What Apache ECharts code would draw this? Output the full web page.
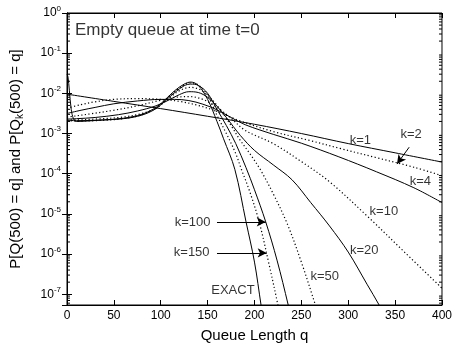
<!DOCTYPE html>
<html>
<head>
<meta charset="utf-8">
<script src="https://cdn.jsdelivr.net/npm/echarts@6/dist/echarts.min.js"></script>
<style>
  html, body { margin: 0; padding: 0; background: #fff; }
  #chart { width: 455px; height: 348px; }
</style>
</head>
<body>
<div id="chart"></div>
<script>
// queue length q (x) and probability (y) for each curve
const qExact = [0, 1, 2.5, 4.5, 7, 10, 20, 40, 60, 80, 95, 105, 115, 125, 132, 140, 150, 160, 167, 179, 191, 200, 207, 212]
const pExact = [3.0e-2, 2.6e-2, 1.2e-2, 4.0e-3, 2.3e-3, 2.0e-3, 2.04e-3, 2.19e-3, 2.40e-3, 3.02e-3, 4.47e-3, 7.08e-3, 1.17e-2, 1.70e-2, 1.91e-2, 1.58e-2, 7.08e-3, 2.0e-3, 7.41e-4, 1.29e-4, 6.31e-6, 6.31e-7, 5.37e-8, 1e-8]

const qK150 = [0, 10, 30, 60, 80, 95, 105, 115, 125, 132, 140, 150, 160, 170, 180, 186, 195, 205, 215, 225, 231]
const pK150 = [2.09e-3, 2.04e-3, 2.09e-3, 2.34e-3, 2.95e-3, 4.37e-3, 6.92e-3, 1.12e-2, 1.62e-2, 1.82e-2, 1.62e-2, 8.91e-3, 2.82e-3, 1.0e-3, 3.16e-4, 1.29e-4, 3.55e-5, 6.31e-6, 6.31e-7, 5.37e-8, 1e-8]

const qK100 = [0, 10, 30, 60, 80, 95, 105, 115, 125, 132, 140, 150, 160, 170, 180, 191, 200, 212, 224, 236, 242]
const pK100 = [2.14e-3, 2.09e-3, 2.14e-3, 2.34e-3, 2.88e-3, 4.17e-3, 6.61e-3, 1.05e-2, 1.55e-2, 1.70e-2, 1.58e-2, 1.0e-2, 3.98e-3, 1.58e-3, 5.62e-4, 1.41e-4, 3.98e-5, 6.31e-6, 7.08e-7, 5.37e-8, 1.26e-8]

const qK50 = [0, 10, 30, 60, 80, 95, 108, 120, 132, 145, 160, 175, 184, 195, 206, 220, 235, 250, 265, 275]
const pK50 = [2.19e-3, 2.19e-3, 2.29e-3, 2.57e-3, 3.16e-3, 4.27e-3, 7.24e-3, 1.17e-2, 1.41e-2, 1.12e-2, 5.01e-3, 1.58e-3, 7.24e-4, 3.16e-4, 1.29e-4, 3.16e-5, 5.62e-6, 6.31e-7, 5.37e-8, 1e-8]

const qK20 = [0, 10, 30, 55, 75, 95, 110, 120, 130, 140, 150, 160, 170, 185, 200, 220, 240, 260, 280, 300, 320, 333, 345]
const pK20 = [2.29e-3, 2.34e-3, 2.51e-3, 2.95e-3, 3.63e-3, 4.90e-3, 7.08e-3, 9.33e-3, 1.10e-2, 1.05e-2, 7.94e-3, 4.79e-3, 2.51e-3, 8.91e-4, 3.80e-4, 1.66e-4, 7.08e-5, 1.91e-5, 5.01e-6, 1.12e-6, 1.78e-7, 5.37e-8, 1.58e-8]

const qK10 = [0, 10, 25, 50, 75, 100, 115, 130, 145, 160, 175, 190, 220, 250, 280, 320, 360, 400]
const pK10 = [2.57e-3, 2.75e-3, 3.09e-3, 3.80e-3, 4.90e-3, 6.76e-3, 7.94e-3, 8.32e-3, 7.08e-3, 4.47e-3, 2.40e-3, 1.20e-3, 5.62e-4, 2.0e-4, 6.31e-5, 8.91e-6, 1.12e-6, 1.41e-7]

const qK4 = [0, 15, 30, 50, 75, 100, 115, 130, 145, 160, 175, 190, 220, 250, 290, 330, 370, 400]
const pK4 = [3.16e-3, 3.80e-3, 4.47e-3, 5.50e-3, 6.46e-3, 7.08e-3, 7.08e-3, 6.61e-3, 5.37e-3, 3.89e-3, 2.51e-3, 1.66e-3, 9.55e-4, 5.75e-4, 2.63e-4, 1.12e-4, 4.47e-5, 1.91e-5]

const qK2 = [0, 15, 30, 50, 75, 100, 120, 140, 160, 184, 220, 260, 291, 330, 370, 400]
const pK2 = [4.27e-3, 5.25e-3, 6.17e-3, 7.08e-3, 7.41e-3, 7.08e-3, 6.31e-3, 5.01e-3, 3.55e-3, 2.09e-3, 1.12e-3, 6.61e-4, 4.27e-4, 2.51e-4, 1.45e-4, 8.91e-5]

const qK1 = [0, 50, 100, 150, 200, 250, 300, 350, 400]
const pK1 = [9.55e-3, 6.31e-3, 4.17e-3, 2.69e-3, 1.70e-3, 1.0e-3, 5.62e-4, 3.31e-4, 1.95e-4]

// curve labels in data coordinates
const noteText = ['k=1', 'k=2', 'k=4', 'k=10', 'k=20', 'k=50', 'k=100', 'k=150', 'EXACT']
const noteQ = [313, 367, 377, 338, 317, 275, 134, 133, 177]
const noteP = [6.76e-4, 9.55e-4, 6.61e-5, 1.17e-5, 1.20e-6, 2.75e-7, 6.31e-6, 1.07e-6, 1.23e-7]

// arrows: [fromQ, fromP, toQ, toP]
const arrows = [
  [365, 4.57e-4, 352, 1.74e-4],
  [160, 6.31e-6, 212, 6.31e-6],
  [160, 1.07e-6, 213, 1.07e-6]
]

// log-axis minor tick multipliers and decades
const minorMults = [2, 3, 4, 5, 6, 7, 8, 9]
const decades = [-8, -7, -6, -5, -4, -3, -2, -1]

const yMin = 5.4e-8
const font = 'Liberation Sans, Arial, Helvetica, sans-serif'

const chart = echarts.init(document.getElementById('chart'))

function pairs(qs, ps) {
  return qs.map((q, i) => [q, ps[i]])
}

function curve(name, qs, ps, dotted) {
  return {
    name,
    type: 'line',
    data: pairs(qs, ps),
    showSymbol: false,
    symbol: 'none',
    smooth: 0.35,
    silent: true,
    lineStyle: dotted
      ? { color: '#000', width: 1.2, type: [1.2, 2.4] }
      : { color: '#000', width: 1 }
  }
}

const minorValues = []
decades.forEach((d) => minorMults.forEach((m) => {
  const v = m * Math.pow(10, d)
  if (v > yMin && v < 1) minorValues.push(v)
}))

const tickStyle = { inside: true, length: 5, lineStyle: { color: '#000' } }
const lineAxis = { lineStyle: { color: '#000', width: 1 } }

chart.setOption({
  animation: false,
  grid: { left: 67, right: 12, top: 13, bottom: 41, show: true, borderColor: '#000', borderWidth: 1 },
  xAxis: [
    {
      type: 'value', min: 0, max: 400, interval: 50,
      axisLine: lineAxis, axisTick: tickStyle, splitLine: { show: false },
      axisLabel: { color: '#000', fontSize: 12, fontFamily: font, margin: 5 },
      name: 'Queue Length q', nameLocation: 'middle', nameGap: 23,
      nameTextStyle: { color: '#000', fontSize: 15, fontFamily: font }
    },
    {
      type: 'value', min: 0, max: 400, interval: 50, position: 'top',
      axisLine: lineAxis, axisTick: tickStyle, axisLabel: { show: false }, splitLine: { show: false }
    }
  ],
  yAxis: [
    {
      type: 'log', logBase: 10, min: yMin, max: 1,
      axisLine: lineAxis, axisTick: tickStyle, splitLine: { show: false },
      axisLabel: {
        color: '#000', fontFamily: font, showMinLabel: false, margin: 6,
        formatter: (v) => '{b|10}{e|' + Math.round(Math.log10(v)) + '}',
        rich: {
          b: { fontSize: 12, fontFamily: font, color: '#000' },
          e: { fontSize: 8, fontFamily: font, color: '#000', padding: [0, 0, 9, 0] }
        }
      },
      name: '{a|P[Q(500) = q] and P[Q}{s|k}{a|(500) = q]}',
      nameLocation: 'middle', nameGap: 42,
      nameTextStyle: {
        rich: {
          a: { fontSize: 15, fontFamily: font, color: '#000' },
          s: { fontSize: 10, fontFamily: font, color: '#000', padding: [8, 0, 0, 0] }
        }
      }
    },
    {
      type: 'log', logBase: 10, min: yMin, max: 1, position: 'right',
      axisLine: lineAxis, axisTick: tickStyle, splitLine: { show: false },
      axisLabel: { show: false }
    }
  ],
  series: [
    curve('k=1', qK1, pK1, false),
    curve('k=2', qK2, pK2, true),
    curve('k=4', qK4, pK4, false),
    curve('k=10', qK10, pK10, true),
    curve('k=20', qK20, pK20, false),
    curve('k=50', qK50, pK50, true),
    curve('k=100', qK100, pK100, false),
    curve('k=150', qK150, pK150, true),
    curve('EXACT', qExact, pExact, false),
    {
      // short inward minor ticks on left and right frame, placed through the log axis
      name: 'minor',
      type: 'custom',
      silent: true,
      clip: false,
      data: minorValues.map((v) => [0, v]),
      renderItem: (params, api) => {
        const left = api.coord([0, api.value(1)])
        const right = api.coord([400, api.value(1)])
        const st = { stroke: '#000', lineWidth: 1 }
        return {
          type: 'group',
          children: [
            { type: 'line', shape: { x1: left[0], y1: left[1], x2: left[0] + 3, y2: left[1] }, style: st },
            { type: 'line', shape: { x1: right[0] - 3, y1: right[1], x2: right[0], y2: right[1] }, style: st }
          ]
        }
      }
    },
    {
      name: 'notes',
      type: 'scatter',
      symbolSize: 0,
      silent: true,
      data: noteText.map((t, i) => ({ name: t, value: [noteQ[i], noteP[i]] })),
      label: {
        show: true, position: 'inside', formatter: '{b}',
        color: '#000', fontSize: 13, fontFamily: font
      },
      markLine: {
        silent: true,
        symbol: ['none', 'arrow'],
        symbolSize: [7, 9],
        label: { show: false },
        lineStyle: { color: '#000', width: 1, type: 'solid' },
        data: arrows.map((a) => [{ coord: [a[0], a[1]] }, { coord: [a[2], a[3]] }])
      }
    },
    {
      name: 'title',
      type: 'scatter',
      symbolSize: 0,
      silent: true,
      data: [{ name: 'Empty queue at time t=0', value: [8.5, 0.38] }],
      label: {
        show: true, position: 'right', distance: 0, formatter: '{b}',
        color: '#000', fontSize: 17, fontFamily: font
      }
    }
  ]
})
</script>
</body>
</html>
